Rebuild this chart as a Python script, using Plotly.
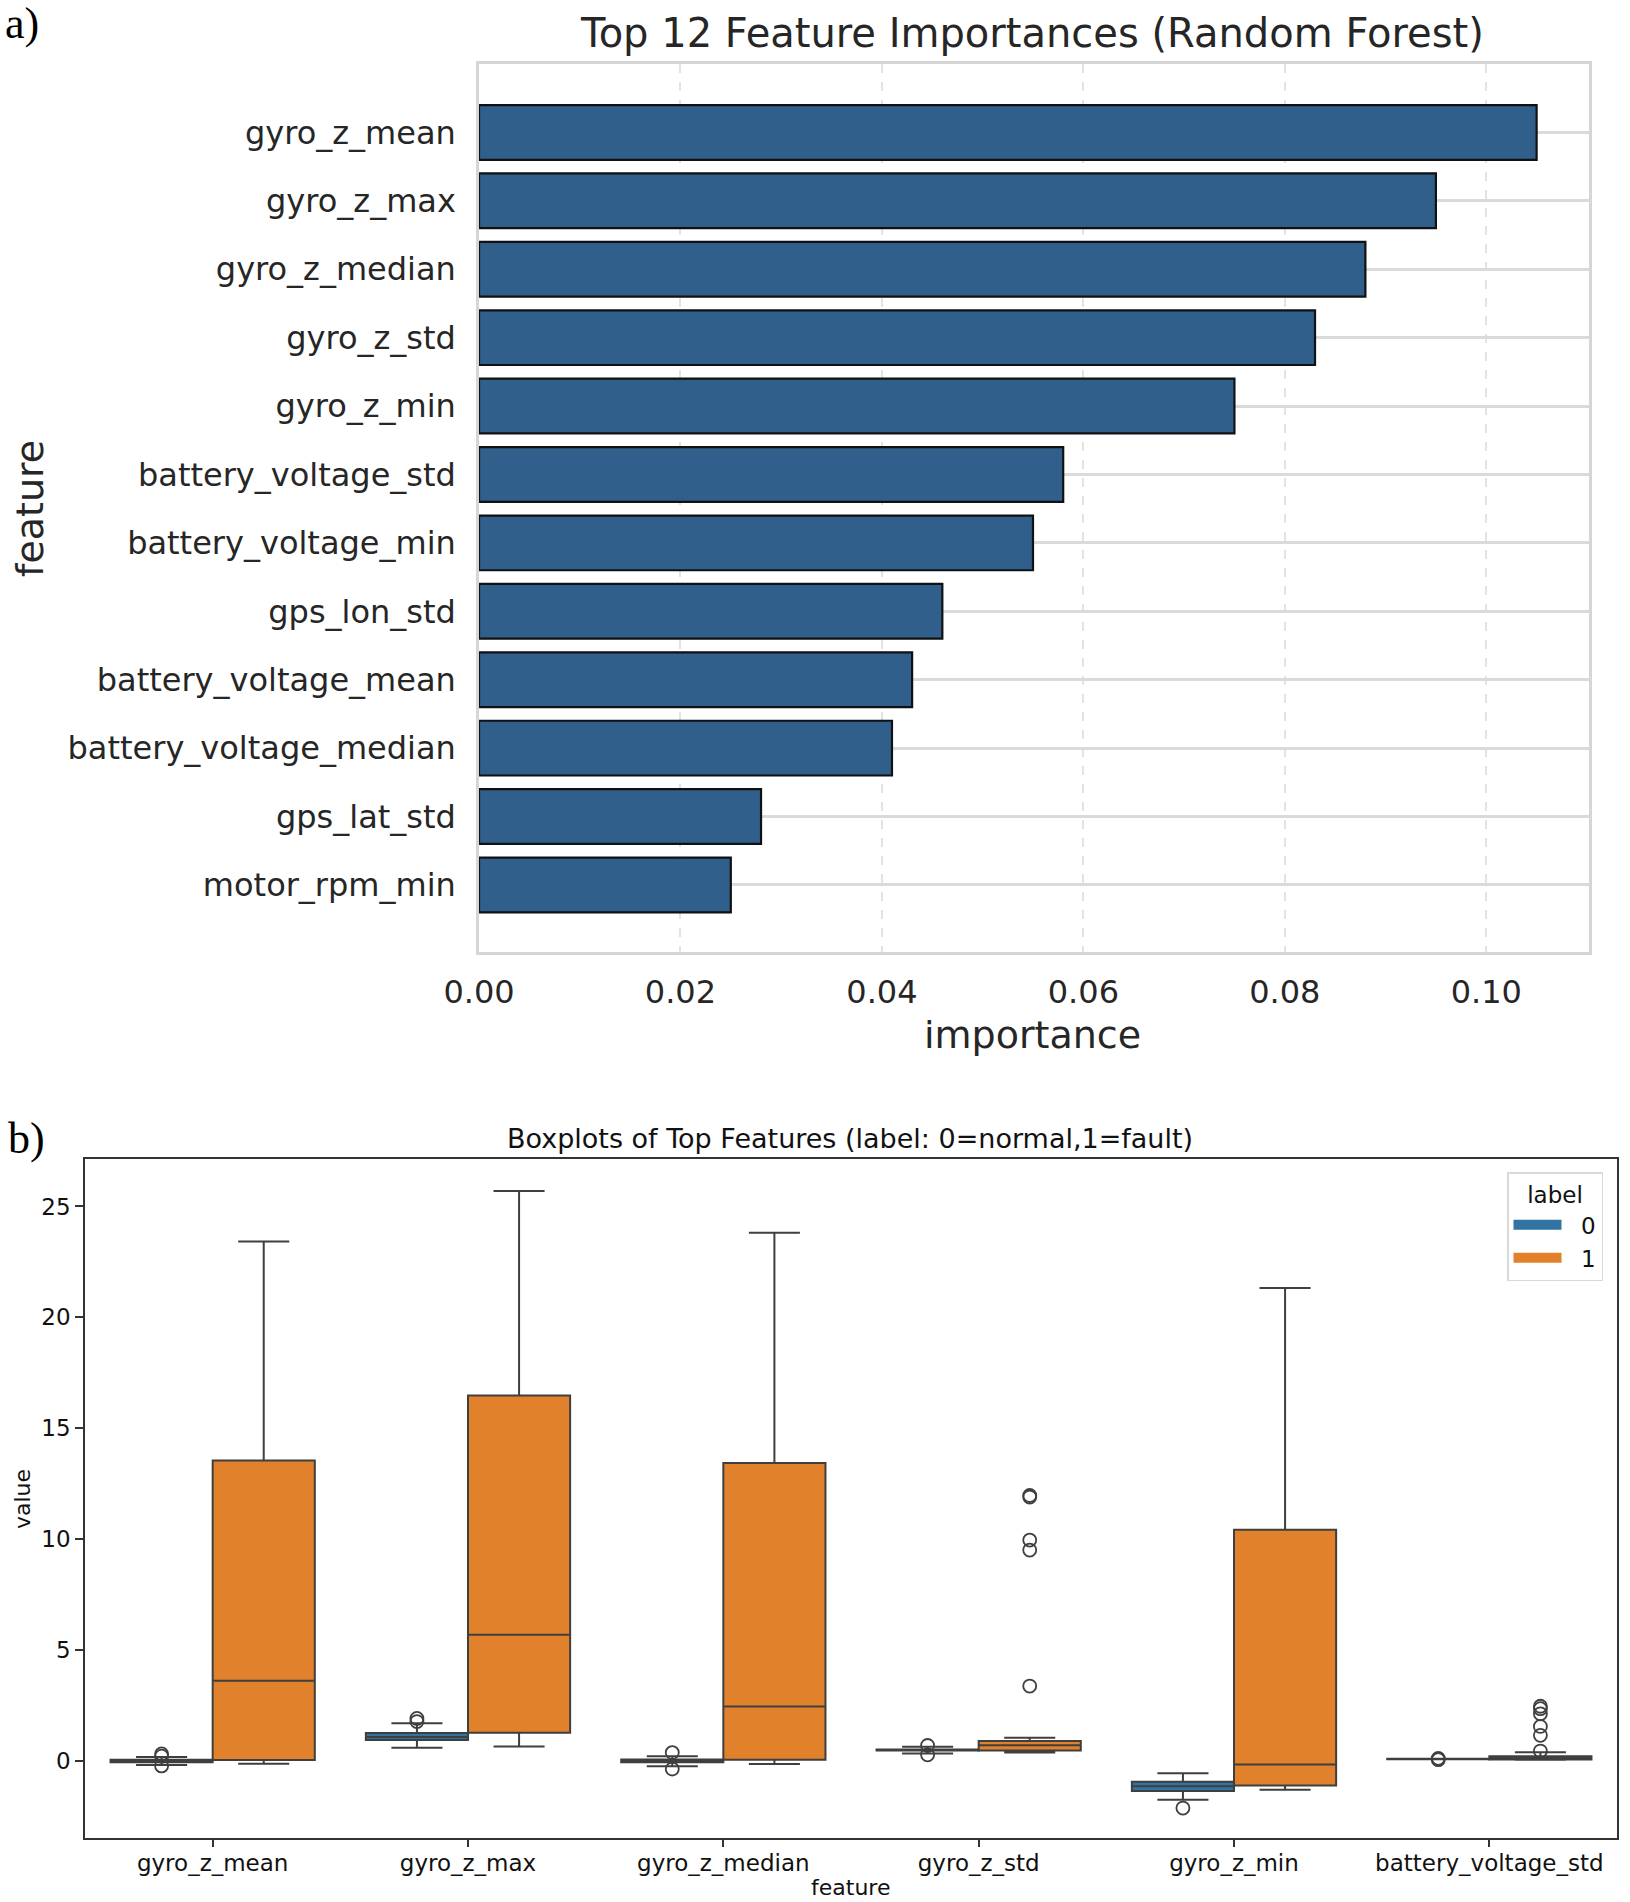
import plotly.graph_objects as go

W, H = 1630, 1902

# ---- panel a data: random forest feature importances
features_a = ["gyro_z_mean", "gyro_z_max", "gyro_z_median", "gyro_z_std", "gyro_z_min",
              "battery_voltage_std", "battery_voltage_min", "gps_lon_std",
              "battery_voltage_mean", "battery_voltage_median", "gps_lat_std", "motor_rpm_min"]
importance = [0.105, 0.095, 0.088, 0.083, 0.075, 0.058, 0.055, 0.046, 0.043, 0.041, 0.028, 0.025]
ticks_a = [0.00, 0.02, 0.04, 0.06, 0.08, 0.10]

# ---- panel b data: box stats per feature, per label
features_b = ["gyro_z_mean", "gyro_z_max", "gyro_z_median", "gyro_z_std", "gyro_z_min", "battery_voltage_std"]
labels = ["0", "1"]

q1_0 = [-0.05, 0.95, -0.06, 0.48, -1.35, 0.08]
med_0 = [0.01, 1.08, 0.01, 0.50, -1.14, 0.09]
q3_0 = [0.06, 1.26, 0.07, 0.52, -0.93, 0.10]
lo_0 = [-0.18, 0.60, -0.24, 0.34, -1.75, 0.08]
hi_0 = [0.18, 1.70, 0.22, 0.64, -0.55, 0.10]
out_0 = [[0.32, 0.22, -0.22], [1.92, 1.78], [0.38, -0.36], [0.70, 0.28], [-2.12], [0.12, 0.06]]

q1_1 = [0.05, 1.28, 0.06, 0.48, -1.10, 0.07]
med_1 = [3.62, 5.69, 2.46, 0.71, -0.16, 0.15]
q3_1 = [13.55, 16.48, 13.43, 0.90, 10.43, 0.22]
lo_1 = [-0.12, 0.66, -0.13, 0.38, -1.30, 0.06]
hi_1 = [23.42, 25.70, 23.82, 1.05, 21.32, 0.40]
out_1 = [[], [], [], [11.97, 11.90, 9.96, 9.51, 3.38], [], [0.45, 1.16, 1.56, 2.13, 2.36, 2.47]]

ticks_b = [0, 5, 10, 15, 20, 25]

colors_b = ["#3274a1", "#e1812c"]
edge_b = "#3f3f3f"


def px_x(p):
    return p / W


def px_y(p):
    return 1 - p / H


fig = go.Figure()

fig.add_trace(go.Bar(
    x=importance, y=features_a, orientation="h", width=0.8,
    marker=dict(color="#2f5f8a", line=dict(color="#111111", width=2.2)),
    xaxis="x", yaxis="y", showlegend=False,
))

stats = [(q1_0, med_0, q3_0, lo_0, hi_0, out_0), (q1_1, med_1, q3_1, lo_1, hi_1, out_1)]
offsets = [-0.2, 0.2]
for k, (q1, med, q3, lo, hi, outs) in enumerate(stats):
    xs = [i + offsets[k] for i in range(len(features_b))]
    fig.add_trace(go.Box(
        x=xs, q1=q1, median=med, q3=q3, lowerfence=lo, upperfence=hi,
        width=0.4, whiskerwidth=0.5, fillcolor=colors_b[k],
        line=dict(color=edge_b, width=2), boxpoints=False,
        name=labels[k], xaxis="x2", yaxis="y2", showlegend=False,
    ))
    ox, oy = [], []
    for i, vals in enumerate(outs):
        for v in vals:
            ox.append(i + offsets[k])
            oy.append(v)
    fig.add_trace(go.Scatter(
        x=ox, y=oy, mode="markers", xaxis="x2", yaxis="y2", showlegend=False,
        marker=dict(symbol="circle-open", size=13, color=edge_b, line=dict(width=1.8, color=edge_b)),
    ))
    # legend swatch (wide rectangle like matplotlib's patch)
    fig.add_trace(go.Scatter(
        x=[None], y=[None], mode="lines", xaxis="x2", yaxis="y2",
        name="\u00a0\u00a0" + labels[k],
        line=dict(color=colors_b[k], width=16),
    ))

font_a = dict(family="DejaVu Sans", color="#262626")
font_b = dict(family="DejaVu Sans", color="#111111")

fig.update_layout(
    width=W, height=H,
    margin=dict(l=0, r=0, t=0, b=0, autoexpand=False),
    paper_bgcolor="white", plot_bgcolor="white",
    boxmode="overlay",
    xaxis=dict(
        domain=[px_x(479), px_x(1589)], range=[0, 0.1102], anchor="y", automargin=False,
        tickvals=ticks_a, ticktext=[f"{t:.2f}" for t in ticks_a],
        tickfont=dict(size=32, **font_a), ticks="", ticklabelstandoff=10,
        showgrid=True, gridcolor="#e3e3e3", gridwidth=1.5, griddash="dash",
        showline=True, mirror=True, linecolor="#d6d6d6", linewidth=2.5, zeroline=False,
    ),
    yaxis=dict(
        domain=[px_y(952), px_y(64)], anchor="x", type="category", automargin=False,
        categoryorder="array", categoryarray=features_a, range=[11.98, -1.0],
        tickfont=dict(size=32, **font_a), ticks="", ticklabelstandoff=14,
        showgrid=True, gridcolor="#dadada", gridwidth=2.5,
        showline=True, mirror=True, linecolor="#d6d6d6", linewidth=2.5, zeroline=False,
    ),
    xaxis2=dict(
        domain=[px_x(85), px_x(1617)], range=[-0.5, 5.5], anchor="y2", automargin=False,
        tickvals=list(range(len(features_b))), ticktext=features_b,
        tickfont=dict(size=23, **font_b), ticks="outside", ticklen=7, tickwidth=1.5, tickcolor="#333333",
        ticklabelstandoff=-3,
        showgrid=False, showline=True, mirror=True, linecolor="#333333", linewidth=1.6, zeroline=False,
    ),
    yaxis2=dict(
        domain=[px_y(1838), px_y(1159)], range=[-3.47, 27.14], anchor="x2", automargin=False,
        tickvals=ticks_b, tickfont=dict(size=23, **font_b),
        ticks="outside", ticklen=8, tickwidth=1.5, tickcolor="#333333",
        showgrid=False, showline=True, mirror=True, linecolor="#333333", linewidth=1.6, zeroline=False,
    ),
    legend=dict(
        x=px_x(1603), y=px_y(1172), xanchor="right", yanchor="top",
        title=dict(text="label", side="top center", font=dict(size=23, **font_b)),
        font=dict(size=23, **font_b), bgcolor="white", tracegroupgap=0, itemwidth=48,
        bordercolor="#d9d9d9", borderwidth=1.5,
    ),
)

annotations = [
    dict(text="Top 12 Feature Importances (Random Forest)", x=px_x(1032), y=px_y(33),
         font=dict(size=40, **font_a)),
    dict(text="importance", x=px_x(1032), y=px_y(1035), font=dict(size=38, **font_a)),
    dict(text="feature", x=px_x(30), y=px_y(509), textangle=-90, font=dict(size=38, **font_a)),
    dict(text="Boxplots of Top Features (label: 0=normal,1=fault)", x=px_x(850), y=px_y(1138),
         font=dict(size=27, **font_b)),
    dict(text="value", x=px_x(22), y=px_y(1499), textangle=-90, font=dict(size=22, **font_b)),
    dict(text="feature", x=px_x(850), y=px_y(1887), font=dict(size=22, **font_b)),
    dict(text="a)", x=px_x(22), y=px_y(23), font=dict(family="Liberation Serif", size=44, color="black")),
    dict(text="b)", x=px_x(26), y=px_y(1138), font=dict(family="Liberation Serif", size=44, color="black")),
]
for a in annotations:
    a.update(xref="paper", yref="paper", showarrow=False, xanchor="center", yanchor="middle")
fig.update_layout(annotations=annotations)

fig.write_html("out.html", config={"displayModeBar": False},
               post_script="document.body.style.margin='0';")
